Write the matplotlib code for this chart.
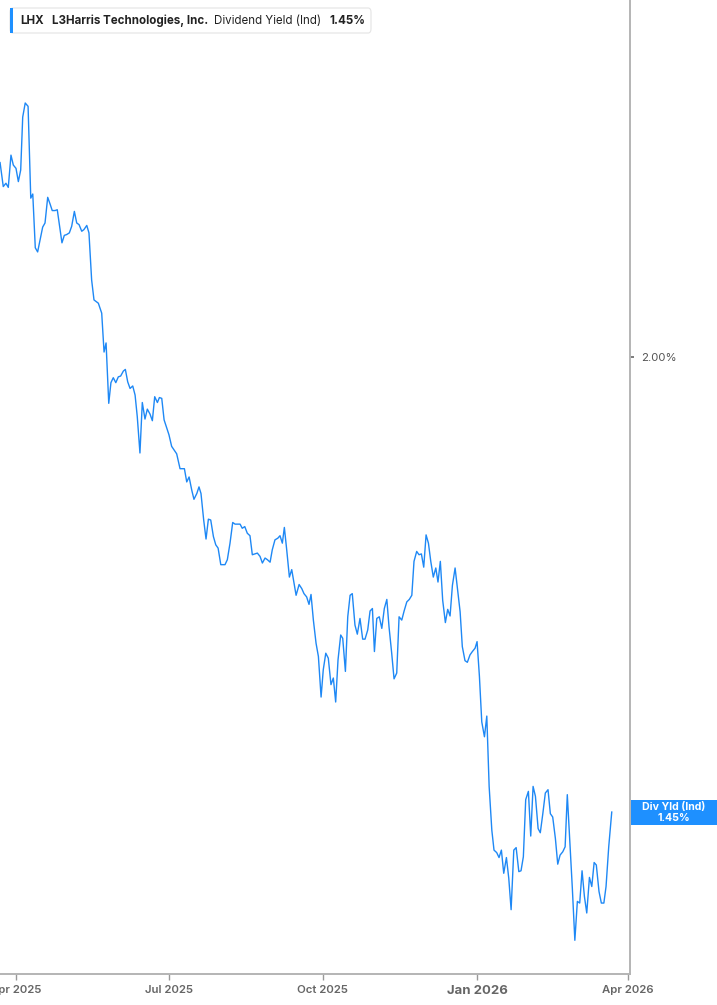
import numpy as np
import pandas as pd
import matplotlib
matplotlib.use("Agg")
import matplotlib.pyplot as plt
import matplotlib.transforms as mtransforms
from matplotlib.patches import FancyBboxPatch, Rectangle

plt.rcParams['font.family'] = ['Inter', 'DejaVu Sans']

# days since 2025-04-01 and LHX indicated dividend yield (%)
start = pd.Timestamp("2025-04-01")
day_offsets = [-9.5, -7.6, -6.0, -4.6, -3.0, -1.6, 0.0, 1.4, 2.8, 4.0, 5.5, 7.2, 8.8, 10.0,
               11.5, 12.9, 14.3, 15.9, 17.3, 18.9, 20.3, 21.6, 23.3, 24.6, 27.4, 28.8, 30.2,
               31.8, 33.2, 34.8, 36.2, 37.6, 39.2, 40.5, 42.2, 43.5, 45.1, 46.5, 49.1, 51.1,
               52.5, 53.7, 55.3, 56.6, 58.0, 59.5, 61.0, 62.4, 64.0, 65.2, 66.6, 68.0, 69.6,
               71.0, 72.3, 73.9, 75.3, 76.9, 78.3, 79.9, 81.3, 82.7, 84.3, 85.5, 86.9, 88.3,
               91.2, 92.8, 95.8, 97.8, 100.4, 101.8, 103.2, 104.8, 106.1, 107.8, 109.1, 110.3,
               111.9, 113.3, 114.7, 116.1, 117.7, 119.1, 120.5, 122.1, 124.6, 126.0, 127.6,
               129.2, 130.6, 133.6, 134.9, 136.4, 137.9, 139.5, 140.9, 142.5, 143.9, 145.5,
               146.9, 148.5, 149.9, 151.5, 152.8, 154.4, 156.1, 157.4, 158.8, 160.0, 161.4,
               163.0, 164.4, 167.0, 168.8, 170.4, 171.7, 173.3, 174.7, 175.9, 177.3, 178.9,
               180.3, 181.9, 183.2, 184.7, 186.2, 187.8, 189.2, 190.6, 192.0, 193.6, 194.8,
               196.4, 197.8, 199.2, 200.5, 202.1, 203.5, 205.1, 206.7, 208.1, 209.7, 211.1,
               212.5, 213.7, 215.1, 216.6, 218.1, 219.6, 221.1, 222.4, 224.0, 225.4, 227.0,
               228.4, 230.0, 231.4, 233.0, 234.5, 236.0, 237.3, 238.9, 240.3, 241.7, 243.1,
               244.5, 245.9, 247.3, 248.8, 250.3, 251.6, 253.0, 254.4, 256.0, 257.4, 258.8,
               260.2, 261.8, 263.1, 264.8, 266.1, 267.7, 269.1, 270.7, 272.1, 273.7, 274.9,
               276.3, 277.7, 279.3, 280.7, 282.1, 283.7, 285.0, 286.6, 288.0, 289.4, 290.8,
               292.4, 293.8, 295.2, 296.8, 298.2, 299.8, 301.1, 302.5, 303.9, 305.5, 306.9,
               308.3, 309.7, 311.3, 312.6, 314.1, 315.6, 317.2, 318.6, 320.0, 321.6, 323.0,
               324.4, 326.0, 327.4, 328.7, 330.4, 331.7, 333.2, 334.7, 336.1, 337.5, 338.9,
               340.3, 341.9, 343.3, 344.7, 346.0, 347.6, 349.0, 350.5, 351.8, 353.4, 355.2]
div_yield = [2.235, 2.206, 2.210, 2.205, 2.244, 2.232, 2.228, 2.212, 2.226, 2.290, 2.307, 2.303,
             2.192, 2.197, 2.132, 2.127, 2.141, 2.157, 2.162, 2.193, 2.185, 2.177, 2.177, 2.178,
             2.138, 2.147, 2.148, 2.150, 2.158, 2.176, 2.162, 2.160, 2.152, 2.154, 2.159, 2.150,
             2.093, 2.069, 2.065, 2.053, 2.006, 2.017, 1.944, 1.969, 1.975, 1.969, 1.976, 1.977,
             1.983, 1.985, 1.970, 1.962, 1.965, 1.954, 1.928, 1.884, 1.945, 1.925, 1.937, 1.931,
             1.923, 1.952, 1.945, 1.951, 1.950, 1.924, 1.906, 1.892, 1.883, 1.865, 1.865, 1.849,
             1.855, 1.839, 1.828, 1.835, 1.843, 1.835, 1.803, 1.780, 1.804, 1.803, 1.783, 1.773,
             1.769, 1.749, 1.749, 1.755, 1.775, 1.800, 1.798, 1.798, 1.793, 1.795, 1.787, 1.784,
             1.761, 1.762, 1.763, 1.759, 1.751, 1.757, 1.755, 1.752, 1.767, 1.779, 1.781, 1.784,
             1.775, 1.794, 1.767, 1.734, 1.743, 1.712, 1.725, 1.720, 1.714, 1.710, 1.701, 1.713,
             1.682, 1.654, 1.638, 1.589, 1.622, 1.642, 1.636, 1.604, 1.612, 1.583, 1.634, 1.664,
             1.660, 1.620, 1.686, 1.712, 1.714, 1.676, 1.665, 1.684, 1.659, 1.659, 1.670, 1.693,
             1.696, 1.644, 1.684, 1.686, 1.672, 1.696, 1.707, 1.674, 1.642, 1.611, 1.618, 1.686,
             1.682, 1.693, 1.704, 1.707, 1.712, 1.753, 1.765, 1.761, 1.762, 1.746, 1.785, 1.775,
             1.753, 1.734, 1.745, 1.728, 1.753, 1.706, 1.679, 1.695, 1.687, 1.724, 1.745, 1.722,
             1.692, 1.650, 1.633, 1.631, 1.640, 1.644, 1.648, 1.656, 1.614, 1.559, 1.541, 1.566,
             1.481, 1.428, 1.404, 1.401, 1.395, 1.404, 1.376, 1.395, 1.370, 1.332, 1.404, 1.407,
             1.378, 1.379, 1.396, 1.465, 1.475, 1.421, 1.481, 1.469, 1.430, 1.425, 1.448, 1.473,
             1.477, 1.448, 1.444, 1.418, 1.387, 1.398, 1.402, 1.408, 1.471, 1.408, 1.358, 1.295,
             1.342, 1.340, 1.379, 1.348, 1.328, 1.371, 1.360, 1.389, 1.386, 1.354, 1.340, 1.340,
             1.360, 1.408, 1.450]

tick_dates = ["2025-04-01", "2025-07-01", "2025-10-01", "2026-01-01", "2026-04-01"]
tick_labels = ["Apr 2025", "Jul 2025", "Oct 2025", "Jan 2026", "Apr 2026"]
last_value = 1.45

dates = start + pd.to_timedelta(day_offsets, unit="D")

fig = plt.figure(figsize=(7.17, 10.05), dpi=100)
ax = fig.add_axes([0.0, 0.0308, 0.8787, 0.9692])
ax.plot(dates, div_yield, color="#1e88f5", lw=1.0)

ax.set_xlim(start + pd.Timedelta(days=-9.54), start + pd.Timedelta(days=366.1))
ax.set_ylim(1.2542, 2.4315)

for s in ["top", "left"]:
    ax.spines[s].set_visible(False)
for s in ["right", "bottom"]:
    ax.spines[s].set_color("#b4b4b4")
    ax.spines[s].set_linewidth(1.4)

ax.set_xticks(pd.to_datetime(tick_dates))
ax.set_xticklabels(tick_labels)
ax.tick_params(axis="x", direction="out", length=4, width=1, color="#999999",
               labelsize=8.2, labelcolor="#666666", pad=4)
for lab in ax.get_xticklabels():
    if lab.get_text() == "Jan 2026":
        lab.set_fontweight("bold")
        lab.set_fontsize(9.5)
    else:
        lab.set_fontweight("semibold")

ax.yaxis.tick_right()
ax.set_yticks([2.00])
ax.set_yticklabels(["2.00%"])
ax.tick_params(axis="y", direction="out", length=3, width=1.2, color="#666666",
               labelsize=8.2, labelcolor="#555555", pad=5)

# last value tag on the right axis
tr = mtransforms.blended_transform_factory(fig.transFigure, ax.transData)
h = 25 / 827.3
ax.add_patch(Rectangle((631 / 717, last_value - h / 2), 1 - 631 / 717, h, transform=tr,
                       facecolor="#1e90ff", edgecolor="none", clip_on=False))
ax.text(674 / 717, last_value + h * 0.2, "Div Yld (Ind)", transform=tr, ha="center",
        va="center", color="white", fontsize=7.6, fontweight="bold")
ax.text(674 / 717, last_value - h * 0.22, f"{last_value:.2f}%", transform=tr, ha="center",
        va="center", color="white", fontsize=7.6, fontweight="bold")

# header legend box
fig.patches.append(FancyBboxPatch((10 / 717, 1 - 33 / 1005), 361 / 717, 25 / 1005,
                                  boxstyle="round,pad=0,rounding_size=0.004",
                                  transform=fig.transFigure, facecolor="white",
                                  edgecolor="#e4e4e4", lw=0.8))
fig.patches.append(Rectangle((10 / 717, 1 - 33 / 1005), 3 / 717, 25 / 1005,
                             transform=fig.transFigure, facecolor="#1e90ff",
                             edgecolor="none"))
ty = 1 - 21 / 1005
hs = 8.3
fig.text(20 / 717, ty, "LHX", fontsize=hs, fontweight="bold", color="#222222", va="center")
fig.text(52 / 717, ty, "L3Harris Technologies, Inc.", fontsize=hs, fontweight="bold",
         color="#222222", va="center")
fig.text(214 / 717, ty, "Dividend Yield (Ind)", fontsize=hs, color="#222222", va="center")
fig.text(329 / 717, ty, f"{last_value:.2f}%", fontsize=hs, fontweight="bold",
         color="#222222", va="center")

fig.savefig("out.png", dpi=100)
